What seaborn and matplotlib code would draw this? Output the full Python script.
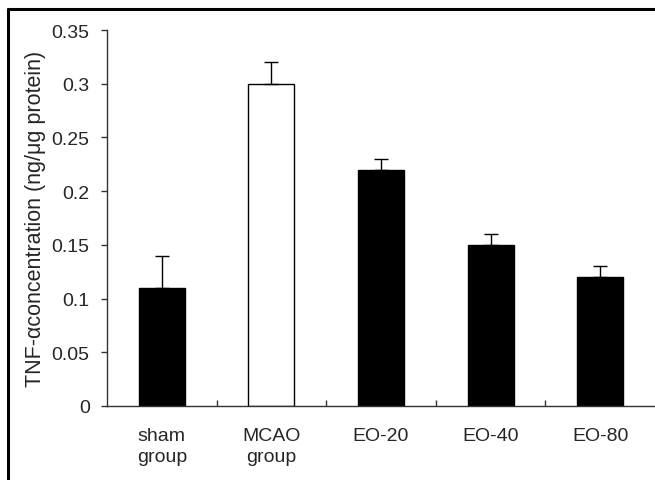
import matplotlib
matplotlib.use("Agg")
import matplotlib.pyplot as plt
import seaborn as sns
import pandas as pd
import numpy as np
from matplotlib.lines import Line2D

categories = ["sham\ngroup", "MCAO\ngroup", "EO-20", "EO-40", "EO-80"]
values = [0.11, 0.30, 0.22, 0.15, 0.12]
errors = [0.03, 0.02, 0.01, 0.01, 0.01]
fills = ["black", "white", "black", "black", "black"]
yticks = [0, 0.05, 0.1, 0.15, 0.2, 0.25, 0.3, 0.35]
ytick_labels = ["0", "0.05", "0.1", "0.15", "0.2", "0.25", "0.3", "0.35"]

sns.set_theme(style="white")
plt.rcParams["font.family"] = ["Liberation Sans", "DejaVu Sans"]

df = pd.DataFrame({"group": categories, "value": values})

fig = plt.figure(figsize=(6.55, 4.81), dpi=100)
ax = fig.add_axes([107/655, 1-407/481, 1-107/655, (407-31)/481])

sns.barplot(data=df, x="group", y="value", hue="group", palette=fills,
            width=0.42, edgecolor="black", linewidth=1, legend=False, ax=ax)
ax.errorbar(np.arange(len(values)), values,
            yerr=[np.zeros(len(errors)), errors], fmt="none",
            ecolor="black", elinewidth=1, capsize=4.7, capthick=1)

ax.set_xlim(-0.5, 4.5)
ax.set_ylim(0, 0.35)
ax.set_yticks(yticks)
ax.set_yticklabels(ytick_labels, fontsize=14)
ax.set_xticks(range(len(categories)))
ax.set_xticklabels(categories, fontsize=14, linespacing=1.3, va="top")
ax.set_xticks([0.5, 1.5, 2.5, 3.5], minor=True)
ax.tick_params(axis="x", which="major", length=0, pad=15)
ax.tick_params(axis="x", which="minor", direction="in", length=4, width=1, color="#333333", bottom=True)
ax.tick_params(axis="y", direction="out", length=4.5, width=1, color="#333333", left=True, pad=8)
ax.set_xlabel("")
ax.set_ylabel("TNF-αconcentration (ng/μg protein)", fontsize=15.5)
ax.yaxis.set_label_coords(-0.111, 0.5)

for s in ["top", "right"]:
    ax.spines[s].set_visible(False)
for s in ["left", "bottom"]:
    ax.spines[s].set_color("#333333")
    ax.spines[s].set_linewidth(1)

# figure frame (top and left)
fig.add_artist(Line2D([8/655, 1.0], [1-10/481, 1-10/481], transform=fig.transFigure, color="black", lw=2.2))
fig.add_artist(Line2D([8/655, 8/655], [0, 1-10/481], transform=fig.transFigure, color="black", lw=2.2))

fig.savefig("out.png", dpi=100)
